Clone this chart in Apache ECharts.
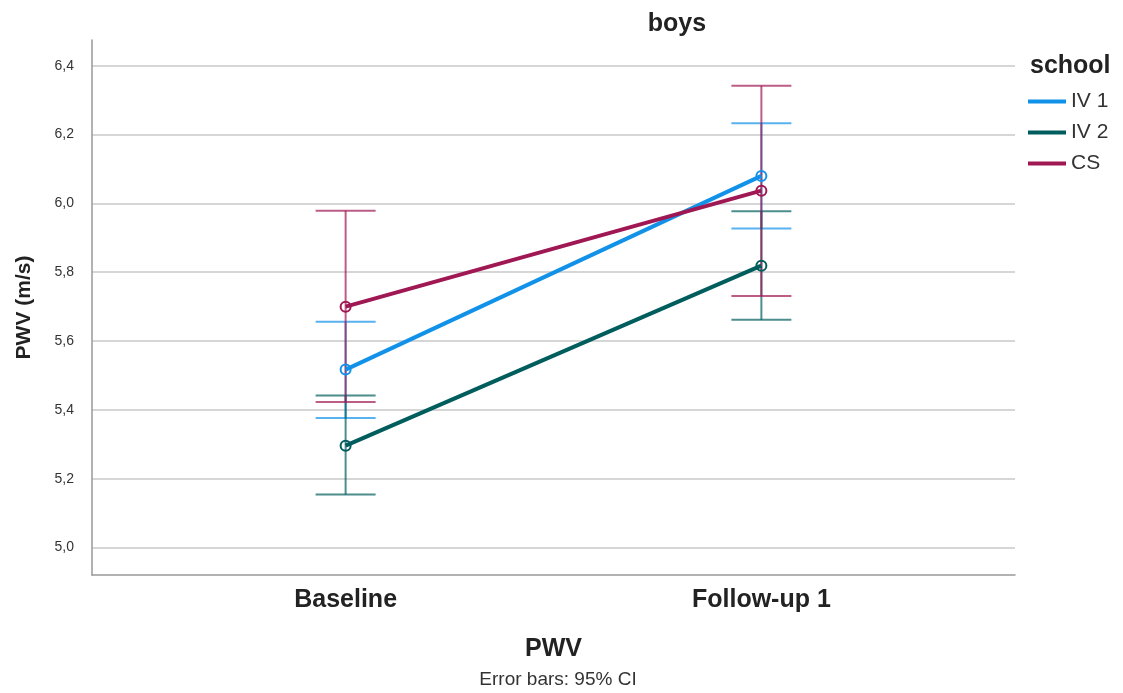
<!DOCTYPE html>
<html>
<head>
<meta charset="utf-8">
<script src="https://cdn.jsdelivr.net/npm/echarts@6/dist/echarts.min.js"></script>
<style>html,body{margin:0;padding:0;background:#fff;}#c{width:1123px;height:693px;}</style>
</head>
<body>
<div id="c"></div>
<script>
const categories = ['Baseline', 'Follow-up 1'];
const groups = ['IV 1', 'IV 2', 'CS'];
const colors = ['#1192e8', '#005d5d', '#9f1853'];
const means = [
  [5.517, 6.080],
  [5.296, 5.819],
  [5.700, 6.037]
];
const lower = [
  [5.376, 5.927],
  [5.154, 5.662],
  [5.423, 5.731]
];
const upper = [
  [5.656, 6.233],
  [5.442, 5.977],
  [5.979, 6.342]
];
const yTicks = [5.0, 5.2, 5.4, 5.6, 5.8, 6.0, 6.2, 6.4];

const font = 'Liberation Sans, Arial, sans-serif';
const chart = echarts.init(document.getElementById('c'));

const series = [];
groups.forEach((g, gi) => {
  series.push({
    name: g + ' CI',
    type: 'custom',
    z: 2,
    data: categories.map((c, ci) => [ci, lower[gi][ci], upper[gi][ci]]),
    encode: { x: 0, y: [1, 2] },
    renderItem: function (params, api) {
      const x = api.value(0);
      const lo = api.coord([x, api.value(1)]);
      const hi = api.coord([x, api.value(2)]);
      const hw = 30;
      const style = { stroke: colors[gi], lineWidth: 2, opacity: 0.7 };
      return {
        type: 'group',
        children: [
          { type: 'line', shape: { x1: lo[0], y1: lo[1], x2: hi[0], y2: hi[1] }, style: style },
          { type: 'line', shape: { x1: lo[0] - hw, y1: lo[1], x2: lo[0] + hw, y2: lo[1] }, style: style },
          { type: 'line', shape: { x1: hi[0] - hw, y1: hi[1], x2: hi[0] + hw, y2: hi[1] }, style: style }
        ]
      };
    }
  });
});
groups.forEach((g, gi) => {
  series.push({
    name: g,
    type: 'line',
    z: 3,
    data: categories.map((c, ci) => [ci, means[gi][ci]]),
    lineStyle: { color: colors[gi], width: 4 },
    itemStyle: { color: 'rgba(255,255,255,0)', borderColor: colors[gi], borderWidth: 2 },
    symbol: 'circle',
    symbolSize: 10,
    showSymbol: true,
    emphasis: { disabled: true }
  });
});

chart.setOption({
  animation: false,
  backgroundColor: '#fff',
  title: [
    { text: 'boys', left: 672, top: 7, textAlign: 'center',
      textStyle: { fontFamily: font, fontSize: 25, fontWeight: 'bold', color: '#222' } },
    { text: 'school', left: 1025, top: 49,
      textStyle: { fontFamily: font, fontSize: 25, fontWeight: 'bold', color: '#222' } },
    { text: 'Error bars: 95% CI', left: 553, top: 665, textAlign: 'center',
      textStyle: { fontFamily: font, fontSize: 19, fontWeight: 'normal', color: '#333' } }
  ],
  legend: {
    data: groups.map((g, gi) => ({ name: g, itemStyle: { color: colors[gi], borderWidth: 0 } })),
    orient: 'vertical',
    left: 1023,
    top: 86,
    itemWidth: 38,
    itemHeight: 4,
    itemGap: 10,
    icon: 'rect',
    textStyle: { fontFamily: font, fontSize: 21, color: '#333' }
  },
  grid: { left: 92, right: 108, top: 40, bottom: 118, containLabel: false },
  xAxis: {
    type: 'value',
    min: -0.61,
    max: 1.61,
    splitNumber: 2,
    name: 'PWV',
    nameLocation: 'middle',
    nameGap: 62,
    nameTextStyle: { fontFamily: font, fontSize: 25, fontWeight: 'bold', color: '#222' },
    axisLine: { show: true, onZero: false, lineStyle: { color: '#999', width: 1.5 } },
    axisTick: { show: false },
    splitLine: { show: false },
    axisLabel: {
      fontFamily: font, fontSize: 25, fontWeight: 'bold', color: '#222', margin: 13,
      showMinLabel: true, showMaxLabel: true,
      formatter: function (v) {
        const i = Math.round(v);
        return (Math.abs(v - i) < 1e-6 && categories[i]) ? categories[i] : '';
      }
    }
  },
  yAxis: {
    type: 'value',
    min: 4.92,
    max: 6.475,
    splitNumber: 7,
    name: 'PWV (m/s)',
    nameLocation: 'middle',
    nameGap: 57,
    nameTextStyle: { fontFamily: font, fontSize: 21, fontWeight: 'bold', color: '#222' },
    axisLine: { show: true, onZero: false, lineStyle: { color: '#999', width: 1.5 } },
    axisTick: { show: false },
    splitLine: { show: true, showMinLine: false, showMaxLine: false, lineStyle: { color: '#c8c8c8', width: 1.5 } },
    axisLabel: {
      fontFamily: font, fontSize: 14, color: '#333', margin: 18,
      formatter: function (v) {
        const hit = yTicks.find(t => Math.abs(t - v) < 1e-6);
        return hit !== undefined ? hit.toFixed(1).replace('.', ',') : '';
      }
    }
  },
  series: series
});
</script>
</body>
</html>
